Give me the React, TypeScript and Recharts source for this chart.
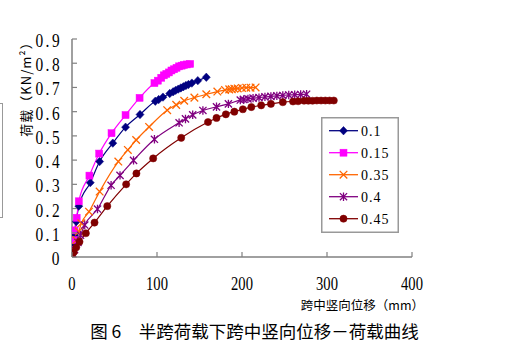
import React from 'react';
import { LineChart, Line, XAxis, YAxis, Legend } from 'recharts';

const xTicks = [0, 100, 200, 300, 400];
const yTicks = [0, 0.1, 0.2, 0.3, 0.4, 0.5, 0.6, 0.7, 0.8, 0.9];

const s01 = [[0,0],[1,0.02],[2,0.05],[3,0.09],[5,0.146],[8,0.21],[21.5,0.307],[32.5,0.394],[48,0.47],[63,0.536],[80,0.588],[98,0.643],[102,0.65],[107,0.66],[115,0.675],[119,0.682],[122,0.688],[125,0.693],[128,0.698],[131,0.703],[134,0.708],[137,0.712],[141,0.718],[148,0.728],[158,0.742]];
const s015 = [[0,0],[1,0.03],[2,0.07],[3,0.11],[5.5,0.162],[8,0.23],[20.5,0.336],[32,0.427],[46.5,0.511],[63,0.586],[79.5,0.657],[97,0.718],[101,0.728],[105,0.74],[108,0.75],[111,0.756],[114,0.762],[117,0.77],[120,0.775],[123,0.781],[126,0.787],[129,0.79],[132,0.793],[135,0.795],[139,0.797]];
const s035 = [[0,0],[2,0.03],[5,0.07],[8,0.105],[11,0.139],[20,0.187],[32.5,0.27],[54.5,0.394],[65.7,0.442],[75.5,0.483],[90.7,0.537],[112,0.606],[122.6,0.628],[132,0.645],[144,0.658],[158,0.672],[171,0.683],[180,0.689],[185,0.692],[188,0.693],[191,0.695],[195,0.696],[200,0.698],[205,0.699],[210,0.699],[216,0.7]];
const s04 = [[0,0],[3,0.03],[7,0.06],[10,0.09],[15,0.132],[30,0.198],[46,0.296],[56.5,0.337],[72.4,0.399],[97,0.486],[126,0.554],[133.5,0.57],[142,0.587],[154,0.605],[170,0.62],[184,0.632],[198,0.648],[202,0.65],[207,0.653],[213,0.656],[220,0.658],[227,0.661],[234,0.663],[241,0.665],[248,0.667],[255,0.669],[262,0.67],[269,0.671],[276,0.672]];
const s045 = [[0,0],[2,0.02],[5,0.04],[8.8,0.063],[16.3,0.098],[26.5,0.142],[41.5,0.21],[63.7,0.3],[75.8,0.345],[95.5,0.407],[128.5,0.492],[160,0.557],[170,0.574],[181,0.589],[191,0.6],[201,0.61],[211,0.619],[222.6,0.626],[234,0.632],[248,0.639],[260,0.642],[266,0.643],[273,0.645],[278,0.645],[283,0.645],[288,0.646],[293,0.646],[298,0.646],[303,0.646],[308,0.646]];

const seriesNames = ['0.1', '0.15', '0.35', '0.4', '0.45'];
const seriesValues = [s01, s015, s035, s04, s045];
const seriesColors = ['#000080', '#FF00FF', '#FF6600', '#800080', '#800000'];
const seriesShapes = ['diamond', 'square', 'x', 'star', 'circle'];

const toRows = (arr: number[][]) => arr.map(([x, y]) => ({ x, y }));

const SERIF = '"Liberation Serif", "DejaVu Serif", serif';
const CJK = '"Noto Sans CJK SC", "Noto Sans CJK JP", sans-serif';
const AXIS = '#808080';

function Marker({ cx, cy, shape, color }: any) {
  if (cx == null || cy == null) return null;
  switch (shape) {
    case 'diamond':
      return <path d={`M${cx},${cy - 4.2}L${cx + 4},${cy}L${cx},${cy + 4.2}L${cx - 4},${cy}Z`} fill={color} stroke={color} strokeWidth={0.5} />;
    case 'square':
      return <rect x={cx - 3.5} y={cy - 3.5} width={7} height={7} fill={color} stroke={color} strokeWidth={0.5} />;
    case 'x':
      return <path d={`M${cx - 3.8},${cy - 3.8}L${cx + 3.8},${cy + 3.8}M${cx + 3.8},${cy - 3.8}L${cx - 3.8},${cy + 3.8}`} stroke={color} strokeWidth={1.3} fill="none" />;
    case 'star':
      return <path d={`M${cx - 3.6},${cy - 3.6}L${cx + 3.6},${cy + 3.6}M${cx + 3.6},${cy - 3.6}L${cx - 3.6},${cy + 3.6}M${cx},${cy - 4.2}L${cx},${cy + 4.2}`} stroke={color} strokeWidth={1.3} fill="none" />;
    default:
      return <circle cx={cx} cy={cy} r={3.6} fill={color} stroke={color} strokeWidth={0.5} />;
  }
}

const XTick = (props: any) => {
  const { x, y, payload } = props;
  return (
    <g>
      <line x1={x} y1={y} x2={x} y2={y - 5} stroke={AXIS} strokeWidth={1.2} />
      <text transform={`translate(${x},${y + 27}) scale(0.81,1)`} textAnchor="middle" dominantBaseline="central" fontFamily={SERIF} fontSize={18} fill="#000">
        {payload.value}
      </text>
    </g>
  );
};

const YTick = (props: any) => {
  const { x, y, payload } = props;
  const label = payload.value === 0 ? '0' : payload.value.toFixed(1);
  return (
    <g>
      <line x1={x} y1={y} x2={x + 5} y2={y} stroke={AXIS} strokeWidth={1.2} />
      <text transform={`translate(${x - 10},${y + 2}) scale(0.81,1)`} textAnchor="end" dominantBaseline="central" fontFamily={SERIF} fontSize={19} letterSpacing={3} fill="#000">
        {label}
      </text>
    </g>
  );
};

const YLabel = () => (
  <text x={0} y={0} transform="translate(25,86) rotate(-90)" textAnchor="middle" dominantBaseline="central" fontFamily={CJK} fontSize={13} letterSpacing={1} fill="#000">
    荷载（KN/m²）
  </text>
);

const XLabel = () => (
  <text x={424} y={304} textAnchor="end" dominantBaseline="central" fontFamily={CJK} fontSize={12.5} fill="#000">
    跨中竖向位移（mm）
  </text>
);

const LegendBox = () => (
  <svg width={78} height={116} style={{ display: 'block' }}>
    <rect x={0.75} y={0.75} width={76.5} height={114.5} fill="#fff" stroke="#999" strokeWidth={1.5} />
    {seriesNames.map((name, i) => {
      const cy = 13.7 + i * 22;
      return (
        <g key={name}>
          <line x1={8} y1={cy} x2={37} y2={cy} stroke={seriesColors[i]} strokeWidth={1.3} />
          <Marker cx={22.5} cy={cy} shape={seriesShapes[i]} color={seriesColors[i]} />
          <text x={40} y={cy + 0.5} dominantBaseline="central" fontFamily={SERIF} fontSize={14} letterSpacing={1} fill="#000">
            {name}
          </text>
        </g>
      );
    })}
  </svg>
);

export default function App() {
  return (
    <div style={{ position: 'absolute', left: 0, top: 0, width: 505, height: 355, background: '#fff', overflow: 'hidden' }}>
      <div style={{ position: 'absolute', left: -6, top: 103, width: 7, height: 113, border: '1px solid #999' }} />
      <LineChart width={505} height={355} margin={{ top: 39, right: 93, left: 0, bottom: 0 }}>
        <XAxis
          type="number"
          dataKey="x"
          domain={[0, 400]}
          ticks={xTicks}
          interval={0}
          allowDataOverflow
          height={98}
          tickSize={0}
          tickMargin={0}
          tickLine={false}
          tick={<XTick />}
          axisLine={{ stroke: AXIS, strokeWidth: 1.5 }}
          label={<XLabel />}
        />
        <YAxis
          type="number"
          dataKey="y"
          domain={[0, 0.9]}
          ticks={yTicks}
          interval={0}
          allowDataOverflow
          width={72}
          tickSize={0}
          tickMargin={0}
          tickLine={false}
          tick={<YTick />}
          axisLine={{ stroke: AXIS, strokeWidth: 1.5 }}
          label={<YLabel />}
        />
        <Legend
          layout="horizontal"
          align="center"
          verticalAlign="middle"
          content={() => <LegendBox />}
          wrapperStyle={{ position: 'absolute', left: 321, top: 117, width: 78, height: 116 }}
        />
        {seriesNames.map((name, i) => (
          <Line
            key={name}
            name={name}
            data={toRows(seriesValues[i])}
            dataKey="y"
            type="monotone"
            stroke={seriesColors[i]}
            strokeWidth={1.2}
            isAnimationActive={false}
            dot={(p: any) => <Marker key={`${name}-${p.index}`} cx={p.cx} cy={p.cy} shape={seriesShapes[i]} color={seriesColors[i]} />}
            activeDot={false}
          />
        ))}
      </LineChart>
      <div style={{ position: 'absolute', left: 0, top: 320, width: 505, textAlign: 'center', fontFamily: CJK, fontSize: 17.5, lineHeight: '22px', color: '#000', whiteSpace: 'pre' }}>
        {' 图 6　半跨荷载下跨中竖向位移－荷载曲线'}
      </div>
    </div>
  );
}
